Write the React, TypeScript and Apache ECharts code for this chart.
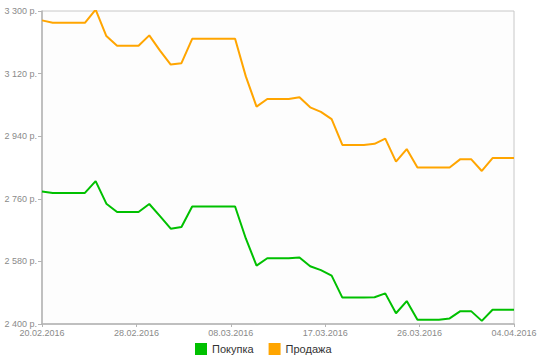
import React, { useEffect, useRef } from "react";
import * as echarts from "echarts";

const dates = [
  "20.02.2016", "21.02.2016", "22.02.2016", "23.02.2016", "24.02.2016", "25.02.2016", "26.02.2016", "27.02.2016",
  "28.02.2016", "29.02.2016", "01.03.2016", "02.03.2016", "03.03.2016", "04.03.2016", "05.03.2016", "06.03.2016",
  "07.03.2016", "08.03.2016", "09.03.2016", "10.03.2016", "11.03.2016", "12.03.2016", "13.03.2016", "14.03.2016",
  "15.03.2016", "16.03.2016", "17.03.2016", "18.03.2016", "19.03.2016", "20.03.2016", "21.03.2016", "22.03.2016",
  "23.03.2016", "24.03.2016", "25.03.2016", "26.03.2016", "27.03.2016", "28.03.2016", "29.03.2016", "30.03.2016",
  "31.03.2016", "01.04.2016", "02.04.2016", "03.04.2016", "04.04.2016",
];

const buyValues = [
  2781, 2777, 2777, 2777, 2777, 2811, 2746, 2722, 2722, 2722, 2745, 2710, 2674, 2679, 2738,
  2738, 2738, 2738, 2738, 2646, 2568, 2589, 2589, 2589, 2591, 2566, 2555, 2539, 2476, 2476,
  2476, 2477, 2488, 2431, 2466, 2412, 2412, 2412, 2416, 2437, 2437, 2409, 2441, 2441, 2441,
];

const sellValues = [
  3273, 3266, 3266, 3266, 3266, 3304, 3228, 3200, 3200, 3200, 3230, 3186, 3146, 3150, 3220,
  3220, 3220, 3220, 3220, 3112, 3025, 3047, 3047, 3047, 3052, 3023, 3010, 2989, 2915, 2915,
  2915, 2918, 2933, 2867, 2903, 2850, 2850, 2850, 2850, 2874, 2874, 2840, 2877, 2877, 2877,
];

const xTickLabels = ["20.02.2016", "28.02.2016", "08.03.2016", "17.03.2016", "26.03.2016", "04.04.2016"];

const seriesNames = ["Покупка", "Продажа"];

const fmtRub = (v: number) => {
  const th = Math.floor(v / 1000);
  const rest = String(Math.round(v % 1000)).padStart(3, "0");
  return `${th} ${rest} р.`;
};

export default function App() {
  const ref = useRef<HTMLDivElement>(null);
  useEffect(() => {
    if (!ref.current) return;
    const chart = echarts.init(ref.current, null, { renderer: "svg" });
    const last = dates.length - 1;
    const step = last / (xTickLabels.length - 1);
    chart.setOption({
      animation: false,
      backgroundColor: "#ffffff",
      textStyle: { fontFamily: "Liberation Sans, Arial, sans-serif" },
      grid: {
        left: 42,
        right: 26,
        top: 11,
        bottom: 39,
        show: true,
        borderColor: "#c8c8c8",
        borderWidth: 1,
        backgroundColor: "#fdfdfd",
      },
      legend: {
        left: 195,
        top: 343,
        padding: 0,
        itemWidth: 12,
        itemHeight: 12,
        itemGap: 15,
        icon: "rect",
        textStyle: { fontSize: 11, color: "#333", fontFamily: "Liberation Sans, Arial, sans-serif" },
        data: seriesNames,
      },
      xAxis: {
        type: "value",
        min: 0,
        max: last,
        interval: step,
        axisLine: { show: true, lineStyle: { color: "#b4b4b4", width: 1.5 } },
        axisTick: { show: true, length: 3, lineStyle: { color: "#b4b4b4" } },
        splitLine: { show: false },
        axisLabel: {
          fontSize: 9,
          color: "#8a8a8a",
          margin: 4,
          formatter: (v: number) => xTickLabels[Math.round(v / step)] ?? "",
        },
      },
      yAxis: {
        type: "value",
        min: 2400,
        max: 3300,
        interval: 180,
        axisLine: { show: true, lineStyle: { color: "#b4b4b4", width: 1.5 } },
        axisTick: { show: true, length: 4, lineStyle: { color: "#b4b4b4" } },
        splitLine: { show: false },
        axisLabel: { fontSize: 9, color: "#8a8a8a", margin: 5, formatter: fmtRub },
      },
      series: [
        {
          name: seriesNames[0],
          type: "line",
          data: buyValues.map((v, i) => [i, v]),
          showSymbol: false,
          color: "#00c000",
          lineStyle: { width: 2, color: "#00c000" },
        },
        {
          name: seriesNames[1],
          type: "line",
          data: sellValues.map((v, i) => [i, v]),
          showSymbol: false,
          color: "#ffa500",
          lineStyle: { width: 2, color: "#ffa500" },
        },
      ],
    });
    return () => chart.dispose();
  }, []);
  return <div ref={ref} style={{ width: 540, height: 363, position: "absolute", left: 0, top: 0 }} />;
}
